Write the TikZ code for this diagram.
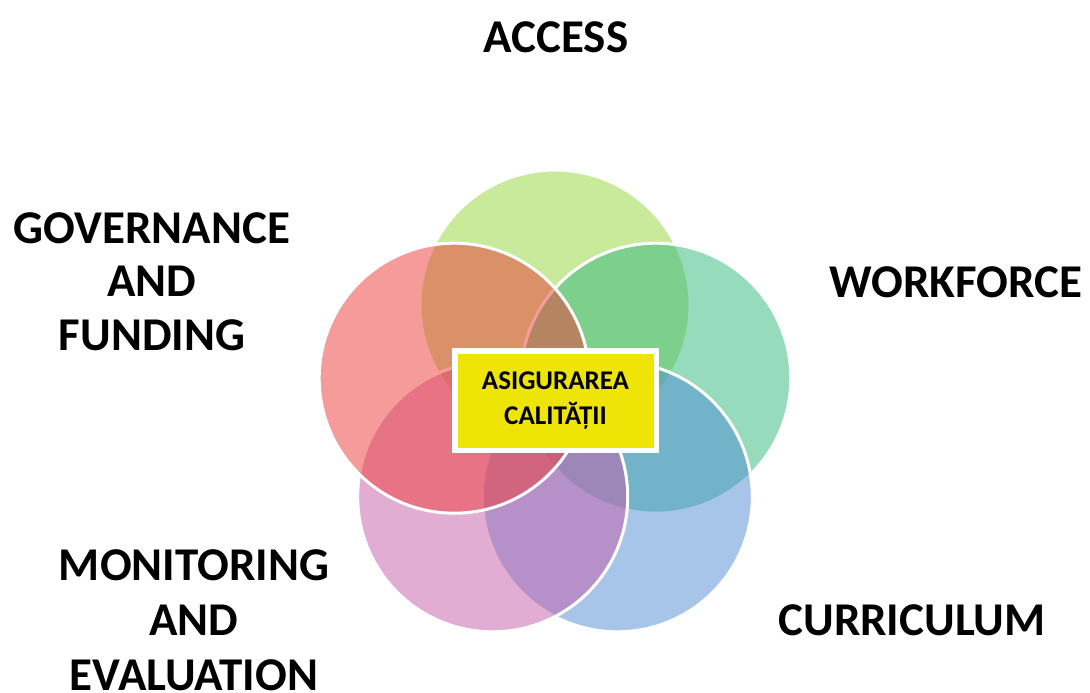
\documentclass[tikz,border=0pt]{standalone}
\usepackage{fontspec}
\setmainfont{Carlito}
\definecolor{cAccess}{RGB}{149,213,57}
\definecolor{cWork}{RGB}{49,185,125}
\definecolor{cCurr}{RGB}{81,141,213}
\definecolor{cMon}{RGB}{197,93,169}
\definecolor{cGov}{RGB}{237,59,55}
\definecolor{cYellow}{RGB}{238,228,6}
\tikzset{
  petal/.style={circle, minimum size=270pt, inner sep=0pt, draw=white, line width=3pt, fill opacity=0.5, draw opacity=1},
  lbl/.style={font=\fontsize{47}{54}\selectfont\bfseries, inner sep=0pt, align=center, text=black},
  centerbox/.style={rectangle, fill=cYellow, draw=white, line width=5.5pt, minimum width=201.5pt, minimum height=99.5pt, inner sep=0pt, align=center, font=\fontsize{27}{35}\selectfont\bfseries}
}
\begin{document}
\begin{tikzpicture}[x=1pt,y=-1pt]
\useasboundingbox (0,0) rectangle (1090,693);
\fill[white] (0,0) rectangle (1090,693);
% circles, drawn in order
\node[petal, fill=cAccess] (pA) at (555,305) {};
\node[petal, fill=cWork] (pW) at (655.8,378.2) {};
\node[petal, fill=cCurr] (pC) at (617.3,496.8) {};
\node[petal, fill=cMon] (pM) at (492.7,496.8) {};
\node[petal, fill=cGov] (pG) at (454.2,378.2) {};
% centre box
\node[centerbox] (qa) at (555.5,400.5) {ASIGURAREA\\CALITĂȚII};
% labels
\node[lbl, anchor=base] (tA) at (556,53) {ACCESS};
\node[lbl, anchor=base] (tW) at (956,297) {WORKFORCE};
\node[lbl, anchor=base] (tC) at (912,635) {CURRICULUM};
\node[lbl, anchor=north, font=\fontsize{47}{53.5}\selectfont\bfseries] (tG) at (152,212) {GOVERNANCE\\AND\\FUNDING};
\node[lbl, anchor=north, font=\fontsize{47}{55}\selectfont\bfseries] (tM) at (194,549) {MONITORING\\AND\\EVALUATION};
\end{tikzpicture}
\end{document}
